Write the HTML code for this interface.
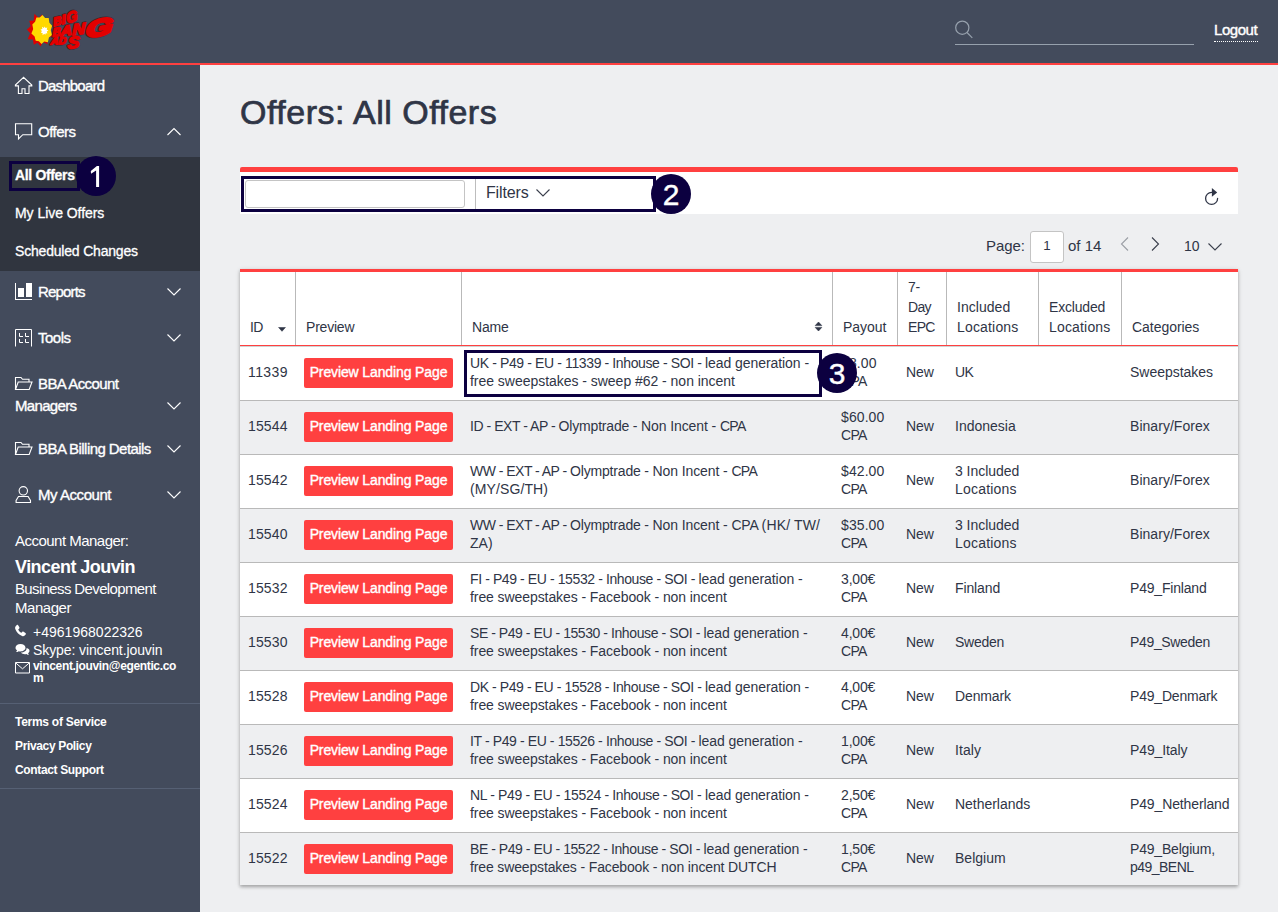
<!DOCTYPE html>
<html lang="en">
<head>
<meta charset="utf-8">
<title>Offers: All Offers</title>
<style>
*{box-sizing:border-box;margin:0;padding:0}
html,body{width:1278px;height:912px;overflow:hidden}
body{font-family:"Liberation Sans",sans-serif;background:#eeeff1;color:#2f3546;font-size:14px;position:relative}
a{color:inherit;text-decoration:none}
/* ---------- header ---------- */
#hdr{position:absolute;left:0;top:0;width:1278px;height:65px;background:#434b5c;border-bottom:2px solid #ff4040}
#logo{position:absolute;left:20px;top:4px}
#hsearch{position:absolute;left:955px;top:44px;width:239px;height:1px;background:#97a1ad}
#hsicon{position:absolute;left:954px;top:19px}
#logout{position:absolute;left:1214px;top:21px;font-size:15px;font-weight:400;-webkit-text-stroke:.4px #fff;color:#fff;letter-spacing:-.45px;line-height:18px;white-space:nowrap}
#logout i{position:absolute;left:0;top:20px;width:44px;height:0;border-top:1px dotted #fff}
/* ---------- sidebar ---------- */
#side{position:absolute;left:0;top:65px;width:200px;height:847px;background:#434b5c;color:#fff}
#sub{position:absolute;left:0;top:92px;width:200px;height:114px;background:#30353f}
.nav{position:absolute;left:38px;font-size:15px;font-weight:400;-webkit-text-stroke:.35px #fff;line-height:20px;white-space:nowrap;letter-spacing:-.75px;color:#fff}
.nav2{left:15px}
.ico{position:absolute;left:14px}
.chev{position:absolute;left:166px}
.subi{position:absolute;left:15px;font-size:14px;font-weight:400;-webkit-text-stroke:.3px #fff;line-height:18px;white-space:nowrap;letter-spacing:-.55px;color:#fff}
.am{position:absolute;left:15px;white-space:nowrap;color:#fff;line-height:18px}
.sep{position:absolute;left:0;width:200px;height:1px;background:#566074}
.foot{position:absolute;left:15px;font-size:12px;font-weight:700;white-space:nowrap;color:#fff;letter-spacing:-.35px;line-height:14px}
/* ---------- main ---------- */
h1{position:absolute;left:240px;top:92px;font-size:34px;line-height:40px;font-weight:400;color:#2f3546;white-space:nowrap;letter-spacing:.5px;-webkit-text-stroke:.7px #2f3546}
#filt{position:absolute;left:240px;top:167px;width:998px;height:47px;background:#fff;border-top:5px solid #ff4040;border-radius:2px 2px 0 0}
#hl2{position:absolute;left:241px;top:176px;width:415px;height:36px;border:3px solid #0c0040}
#finput{position:absolute;left:245px;top:180px;width:220px;height:28px;border:1px solid #c4c4c4;border-radius:3px;background:#fff}
#fsep{position:absolute;left:475px;top:179px;width:1px;height:30px;background:#bdbdbd}
#ftxt{position:absolute;left:486px;top:184px;font-size:16px;line-height:18px;color:#2f3546;letter-spacing:-.15px}
.badge{position:absolute;z-index:6;width:40px;height:40px;border-radius:50%;background:#0c0040;color:#fff;font-size:30px;line-height:42px;text-align:center;-webkit-text-stroke:.4px #fff;overflow:hidden}
#pager{position:absolute;left:0;top:237px;font-size:15px;color:#2f3546;line-height:18px}
#hl1{position:absolute;left:9px;top:161px;width:71px;height:30px;border:3px solid #0c0040}
#hl3{position:absolute;z-index:5;left:464px;top:350px;width:358px;height:47px;border:3px solid #0c0040}
/* ---------- table ---------- */
#tbl{position:absolute;left:240px;top:269px;width:998px;height:616px;background:#fff;border-top:3px solid #ff4040;box-shadow:0 2px 3px rgba(0,0,0,.24),0 1px 5px rgba(0,0,0,.14)}
#thead{position:absolute;left:0;top:0;width:998px;height:74px;border-bottom:1px solid #ff4040;background:#fff;box-shadow:0 1px 0 #cfd3d3}
.vl{position:absolute;top:0;width:1px;height:73px;background:#b9b9b9}
.th{position:absolute;bottom:8px;font-size:14px;line-height:20px;color:#2f3546;white-space:nowrap}
.row{position:absolute;left:0;width:998px;height:54px;border-bottom:1px solid #b9b9b9;background:#fff}
.row.alt{background:#eeeff1}
.row.last{height:52px;border-bottom:0}
.c{position:absolute;top:-1px;height:53px;display:flex;align-items:center;font-size:14px;line-height:18px;color:#2f3546;white-space:nowrap;letter-spacing:-.3px}
.c span{display:block;position:relative;top:-1px}
.c b{font-weight:400;white-space:pre}
.c1{left:8px}.c2{left:64px}.c3{left:230px}.c4{left:601px}.c5{left:666px}.c6{left:715px}.c8{left:890px}
.btn{display:block;width:149px;height:30px;background:#ff4040;border-radius:2px;color:#fff;font-weight:400;-webkit-text-stroke:.4px #fff;font-size:14px;line-height:29px;text-align:center;letter-spacing:-.12px}
</style>
</head>
<body>
<div id="hdr">
<svg id="logo" width="100" height="52" viewBox="20 4 100 52">
<polygon points="42.0,14.4 43.9,19.4 48.6,18.2 47.8,24.4 52.0,26.7 49.0,31.2 51.9,36.3 47.2,37.8 47.6,44.2 42.9,42.1 40.6,46.6 37.6,42.8 33.8,44.7 32.9,39.5 27.7,39.2 30.2,33.3 26.9,29.6 30.6,26.3 29.3,20.8 33.7,20.6 34.5,13.7 38.7,18.0" fill="#e00000"/>
<polygon points="42.5,15.0 45.1,18.0 48.7,17.9 49.4,22.8 52.1,25.7 50.8,30.2 52.0,35.0 48.9,37.4 47.9,42.3 44.3,41.6 41.5,43.9 38.9,41.2 35.7,40.7 34.6,36.4 31.4,33.6 33.2,29.0 32.3,24.4 35.1,21.8 36.4,17.4 39.7,17.6" fill="#ffd800"/>
<polygon points="44.8,26.6 45.5,28.1 47.3,27.4 46.7,29.6 48.4,30.5 46.8,31.6 47.4,33.4 45.8,33.3 45.3,34.8 44.2,33.8 42.6,35.2 42.6,32.9 40.9,32.7 41.9,31.0 40.5,29.5 42.4,29.0 42.0,26.7 43.8,27.9" fill="#fff"/>
<g font-family="Liberation Sans, sans-serif" font-weight="700" font-style="italic" fill="#3a0808" stroke="#3a0808" stroke-width="2.600" stroke-linejoin="round" opacity=".55">
<text transform="translate(53.800,26.200) rotate(-16) skewX(-8)" font-size="11.500" textLength="8.500" lengthAdjust="spacingAndGlyphs">B</text>
<text transform="translate(62.300,24.300) rotate(-16) skewX(-8)" font-size="12.500" textLength="4" lengthAdjust="spacingAndGlyphs">I</text>
<text transform="translate(67,23.600) rotate(-16) skewX(-8)" font-size="15" textLength="11.500" lengthAdjust="spacingAndGlyphs">G</text>
<text transform="translate(52.500,36.800) rotate(-8) skewX(-8)" font-size="12" textLength="8.500" lengthAdjust="spacingAndGlyphs">B</text>
<text transform="translate(60.500,36.300) rotate(-8) skewX(-8)" font-size="14" textLength="11.500" lengthAdjust="spacingAndGlyphs">A</text>
<text transform="translate(72.200,35.300) rotate(-8) skewX(-8)" font-size="15.500" textLength="13" lengthAdjust="spacingAndGlyphs">N</text>
<text transform="translate(85.500,38) rotate(-10) skewX(-14)" font-size="23" textLength="27" lengthAdjust="spacingAndGlyphs" stroke-width="3.600">G</text>
<text transform="translate(50.500,44.500) rotate(-2) skewX(-8)" font-size="10" textLength="15.500" lengthAdjust="spacingAndGlyphs">AD</text>
<text transform="translate(67.500,48.800) rotate(-6) skewX(-8)" font-size="16.500" textLength="12" lengthAdjust="spacingAndGlyphs">S</text>
</g>
<g font-family="Liberation Sans, sans-serif" font-weight="700" font-style="italic" fill="#e30000" stroke="#e30000" stroke-width="1.500" stroke-linejoin="round">
<text transform="translate(53.800,26.200) rotate(-16) skewX(-8)" font-size="11.500" textLength="8.500" lengthAdjust="spacingAndGlyphs">B</text>
<text transform="translate(62.300,24.300) rotate(-16) skewX(-8)" font-size="12.500" textLength="4" lengthAdjust="spacingAndGlyphs">I</text>
<text transform="translate(67,23.600) rotate(-16) skewX(-8)" font-size="15" textLength="11.500" lengthAdjust="spacingAndGlyphs">G</text>
<text transform="translate(52.500,36.800) rotate(-8) skewX(-8)" font-size="12" textLength="8.500" lengthAdjust="spacingAndGlyphs">B</text>
<text transform="translate(60.500,36.300) rotate(-8) skewX(-8)" font-size="14" textLength="11.500" lengthAdjust="spacingAndGlyphs">A</text>
<text transform="translate(72.200,35.300) rotate(-8) skewX(-8)" font-size="15.500" textLength="13" lengthAdjust="spacingAndGlyphs">N</text>
<text transform="translate(85.500,38) rotate(-10) skewX(-14)" font-size="23" textLength="27" lengthAdjust="spacingAndGlyphs" stroke-width="2.600">G</text>
<text transform="translate(50.500,44.500) rotate(-2) skewX(-8)" font-size="10" textLength="15.500" lengthAdjust="spacingAndGlyphs">AD</text>
<text transform="translate(67.500,48.800) rotate(-6) skewX(-8)" font-size="16.500" textLength="12" lengthAdjust="spacingAndGlyphs">S</text>
</g>
</svg>
<svg id="hsicon" width="22" height="22" viewBox="0 0 22 22" fill="none" stroke="#97a1ad" stroke-width="1.2"><circle cx="8.300" cy="8.700" r="6.600"/><path d="M13 13.500 18.300 18.800"/></svg>
<div id="hsearch"></div>
<a id="logout">Logout<i></i></a>
</div>
<div id="side"><div id="sub"></div>
<!-- nav icons -->
<svg class="ico" style="top:11px" width="20" height="20" viewBox="0 0 20 20" fill="none" stroke="#fff" stroke-width="1.1"><path d="M9.500 1.300 1.400 9v.9h3v7.600h3.600v-4.700h3v4.700h4V9.900h2.800V9z" stroke-linejoin="miter"/></svg>
<a class="nav" style="top:11px;letter-spacing:-0.8px">Dashboard</a>
<svg class="ico" style="top:57px" width="20" height="20" viewBox="0 0 20 20" fill="none" stroke="#fff" stroke-width="1.1"><path d="M1.500 1.800h16.200v10.900H8.800l-4.300 4.300v-4.300h-3z"/></svg>
<a class="nav" style="top:57px;letter-spacing:-0.52px">Offers</a>
<svg class="chev" style="top:62px" width="16" height="10" viewBox="0 0 16 10" fill="none" stroke="#fff" stroke-width="1.1"><path d="M1.500 8 8 1.500l6.500 6.500"/></svg>
<a class="subi" style="top:101px;font-weight:700;letter-spacing:-.34px">All Offers</a>
<a class="subi sm" style="top:139px;letter-spacing:-.05px">My Live Offers</a>
<a class="subi sm" style="top:177px;letter-spacing:-.19px">Scheduled Changes</a>
<svg class="ico" style="top:217px" width="20" height="20" viewBox="0 0 20 20" fill="#fff"><path d="M1 1h1v16h16v1H1zM4 6h6v9H4zM12 1h6v14h-6z"/></svg>
<a class="nav" style="top:217px;letter-spacing:-0.82px">Reports</a>
<svg class="chev" style="top:222px" width="16" height="10" viewBox="0 0 16 10" fill="none" stroke="#fff" stroke-width="1.1"><path d="M1.500 1.500l6.500 6.500 6.500-6.500"/></svg>
<svg class="ico" style="top:263px" width="20" height="20" viewBox="0 0 20 20" fill="none" stroke="#fff" stroke-width="1"><path d="M1.500 18.500V1.500h16v17M5.500 5v3.500H9M11.500 5v3.500H15M5.500 11v3.500H9M11.500 11v3.500H15"/></svg>
<a class="nav" style="top:263px;letter-spacing:-0.51px">Tools</a>
<svg class="chev" style="top:268px" width="16" height="10" viewBox="0 0 16 10" fill="none" stroke="#fff" stroke-width="1.1"><path d="M1.500 1.500l6.500 6.500 6.500-6.500"/></svg>
<svg class="ico" style="top:311px" width="20" height="16" viewBox="0 0 20 16" fill="none" stroke="#fff" stroke-width="1.1"><path d="M1.500 13.500V1.500h5.500l1.500 1.800h6.500v2.700M1.500 13.500 4.200 6H18l-2.800 7.500z"/></svg>
<a class="nav" style="top:309px;letter-spacing:-0.57px">BBA Account</a>
<a class="nav nav2" style="top:331px;letter-spacing:-0.67px">Managers</a>
<svg class="chev" style="top:336px" width="16" height="10" viewBox="0 0 16 10" fill="none" stroke="#fff" stroke-width="1.1"><path d="M1.500 1.500l6.500 6.500 6.500-6.500"/></svg>
<svg class="ico" style="top:376px" width="20" height="16" viewBox="0 0 20 16" fill="none" stroke="#fff" stroke-width="1.1"><path d="M1.500 13.500V1.500h5.500l1.500 1.800h6.500v2.700M1.500 13.500 4.200 6H18l-2.800 7.500z"/></svg>
<a class="nav" style="top:374px;letter-spacing:-0.56px">BBA Billing Details</a>
<svg class="chev" style="top:379px" width="16" height="10" viewBox="0 0 16 10" fill="none" stroke="#fff" stroke-width="1.1"><path d="M1.500 1.500l6.500 6.500 6.500-6.500"/></svg>
<svg class="ico" style="top:420px" width="20" height="20" viewBox="0 0 20 20" fill="none" stroke="#fff" stroke-width="1.1"><circle cx="9.300" cy="5.800" r="4.200"/><path d="M4.500 11.500h9.600l2.400 4v2h-14.400v-2z"/></svg>
<a class="nav" style="top:420px;letter-spacing:-0.45px">My Account</a>
<svg class="chev" style="top:425px" width="16" height="10" viewBox="0 0 16 10" fill="none" stroke="#fff" stroke-width="1.1"><path d="M1.500 1.500l6.500 6.500 6.500-6.500"/></svg>
<!-- account manager -->
<div class="am" style="top:467px;font-size:15px;letter-spacing:-.52px">Account Manager:</div>
<div class="am" style="top:491px;font-size:18px;font-weight:700;line-height:22px;letter-spacing:-.55px">Vincent Jouvin</div>
<div class="am" style="top:515px;font-size:15px;letter-spacing:-.63px">Business Development</div>
<div class="am" style="top:534px;font-size:15px;letter-spacing:-.45px">Manager</div>
<svg class="ico" style="left:14px;top:559px" width="14" height="14" viewBox="0 0 13 13" fill="#fff"><path d="M2.600 1c.5-.4 1.100-.3 1.400.3l1 1.800c.2.500.1 1-.3 1.300l-.8.600c.6 1.400 1.600 2.500 3 3.200l.7-.8c.3-.4.900-.5 1.300-.2l1.700 1.100c.5.300.6 1 .2 1.400l-.9 1c-.6.600-1.600.700-2.400.4C4.400 9.900 2.300 7.600 1.200 4.600c-.3-.8-.2-1.700.4-2.400z"/></svg>
<div class="am" style="left:33px;top:558px;font-size:14px;letter-spacing:.02px">+4961968022326</div>
<svg class="ico" style="left:15px;top:578px" width="15" height="13" viewBox="0 0 15 13" fill="#fff"><path d="M5.500 1C2.700 1 .5 2.600.5 4.700c0 1 .6 2 1.500 2.600-.1.700-.5 1.300-1 1.800 1 0 2-.3 2.800-.9.500.1 1.100.2 1.700.2 2.800 0 5-1.700 5-3.700S8.300 1 5.500 1z"/><path d="M11.600 5.300c0 2.400-2.500 4.200-5.700 4.300.8 1 2.300 1.600 4 1.600.5 0 1-.1 1.500-.2.700.6 1.600.9 2.600.9-.5-.5-.8-1.100-.9-1.700.8-.6 1.400-1.500 1.400-2.400 0-1.300-1.200-2.300-2.900-2.700z"/></svg>
<div class="am" style="left:33px;top:576px;font-size:14px;letter-spacing:-.1px">Skype: vincent.jouvin</div>
<svg class="ico" style="left:15px;top:597px" width="15" height="12" viewBox="0 0 15 12" fill="none" stroke="#fff" stroke-width="1"><path d="M.5.500h14v10.500H.5zM.8 1 7.500 6.800 14.200 1"/></svg>
<div class="am" style="left:33px;top:595px;font-size:12px;font-weight:700;line-height:12px;letter-spacing:-.35px;white-space:normal;width:150px;word-break:break-all">vincent.jouvin@egentic.co<br>m</div>
<div class="sep" style="top:638px"></div>
<a class="foot" style="top:650px;letter-spacing:-.27px">Terms of Service</a>
<a class="foot" style="top:674px">Privacy Policy</a>
<a class="foot" style="top:698px">Contact Support</a>
<div class="sep" style="top:723px"></div>
</div>
<h1>Offers: All Offers</h1>
<div id="filt"></div>
<div id="finput"></div>
<div id="fsep"></div>
<div id="ftxt">Filters</div>
<svg style="position:absolute;left:535px;top:188px" width="16" height="10" viewBox="0 0 16 10" fill="none" stroke="#3a3f4c" stroke-width="1.1"><path d="M1.500 1.500 8 8l6.500-6.500"/></svg>
<div id="hl2"></div>
<div class="badge" style="left:651px;top:174px">2</div>
<svg style="position:absolute;left:1202px;top:186px" width="20" height="22" viewBox="0 0 20 22" fill="none" stroke="#2f3546" stroke-width="1.300"><path d="M9.600 6.400A6 6 0 1 0 15.600 12.400" stroke-linecap="round"/><path d="M9.900 2v8.800l5.300-4.400z" fill="#2f3546" stroke="none"/></svg>
<div id="pager">
<span style="position:absolute;left:986px;top:0;letter-spacing:-.05px">Page:</span>
<span style="position:absolute;left:1030px;top:-6px;width:34px;height:32px;border:1px solid #c4c4c4;border-radius:3px;background:#fff;text-align:center;line-height:28px;font-size:13.300px">1</span>
<span style="position:absolute;left:1068px;top:0;white-space:nowrap;letter-spacing:0">of 14</span>
<svg style="position:absolute;left:1119px;top:-1px" width="12" height="16" viewBox="0 0 12 16" fill="none" stroke="#9b9ea5" stroke-width="1.100"><path d="M9 1.500 2.500 8 9 14.500"/></svg>
<svg style="position:absolute;left:1149px;top:-1px" width="12" height="16" viewBox="0 0 12 16" fill="none" stroke="#3a3f4c" stroke-width="1.100"><path d="M3 1.500 9.500 8 3 14.500"/></svg>
<span style="position:absolute;left:1184px;top:0;font-size:14px">10</span>
<svg style="position:absolute;left:1207px;top:5px" width="16" height="10" viewBox="0 0 16 10" fill="none" stroke="#3a3f4c" stroke-width="1.100"><path d="M1.500 1.500 8 8l6.500-6.500"/></svg>
</div>
<div id="hl1"></div>
<div class="badge" style="left:76px;top:156px"><svg width="40" height="40" viewBox="0 0 40 40" style="display:block"><path d="M23.100 10V31.100H20.100V14.600L15 17.800 14.800 15 20.900 10z" fill="#fff"/></svg></div>
<div id="hl3"></div>
<div class="badge" style="left:817px;top:353px">3</div>
<div id="tbl">
<div id="thead">
<i class="vl" style="left:55px"></i><i class="vl" style="left:221px"></i><i class="vl" style="left:592px"></i><i class="vl" style="left:657px"></i><i class="vl" style="left:706px"></i><i class="vl" style="left:798px"></i><i class="vl" style="left:881px"></i>
<svg style="position:absolute;left:38px;top:55px" width="8" height="5" viewBox="0 0 8 5"><path d="M.6.400h6.800L4 4.300z" fill="#2f3546" stroke="#2f3546" stroke-width=".6" stroke-linejoin="round"/></svg>
<svg style="position:absolute;left:574px;top:49px" width="9" height="11" viewBox="0 0 9 11"><path d="M1.200 4.600h6.600L4.500 1zM1.200 6.400h6.600L4.500 10z" fill="#2f3546" stroke="#2f3546" stroke-width=".6" stroke-linejoin="round"/></svg>
<span class="th" style="left:10px"><span style="letter-spacing:-0.7px">ID</span></span>
<span class="th" style="left:66px"><span style="letter-spacing:-0.21px">Preview</span></span>
<span class="th" style="left:232px"><span style="letter-spacing:-0.16px">Name</span></span>
<span class="th" style="left:603px"><span style="letter-spacing:-0.02px">Payout</span></span>
<span class="th" style="left:668px"><span style="letter-spacing:-0.25px">7-</span><br><span style="letter-spacing:-0.7px">Day</span><br><span style="letter-spacing:-0.7px">EPC</span></span>
<span class="th" style="left:717px"><span style="letter-spacing:0.04px">Included</span><br><span style="letter-spacing:0.17px">Locations</span></span>
<span class="th" style="left:809px"><span style="letter-spacing:-0.18px">Excluded</span><br><span style="letter-spacing:0.17px">Locations</span></span>
<span class="th" style="left:892px"><span style="letter-spacing:-0.04px">Categories</span></span>
</div>
<div class="row" style="top:75px"><div class="c c1"><span style="letter-spacing:.39px">11339</span></div><div class="c c2"><a class="btn">Preview Landing Page</a></div><div class="c c3"><div><span><b style="letter-spacing:-.38px">UK - P49 - EU - 11339 - </b><b style="letter-spacing:-.39px">Inhouse - SOI - </b><b style="letter-spacing:-.06px">lead generation -</b></span><span style="letter-spacing:-.03px">free sweepstakes - sweep #62 - non incent</span></div></div><div class="c c4"><div><span style="letter-spacing:.12px">$8.00</span><span style="letter-spacing:-.68px">CPA</span></div></div><div class="c c5"><span style="letter-spacing:-.11px">New</span></div><div class="c c6"><div><span style="letter-spacing:-.7px">UK</span></div></div><div class="c c8"><div><span style="letter-spacing:-.03px">Sweepstakes</span></div></div></div>
<div class="row alt" style="top:129px"><div class="c c1"><span style="letter-spacing:.14px">15544</span></div><div class="c c2"><a class="btn">Preview Landing Page</a></div><div class="c c3"><div><span><b style="letter-spacing:-.46px">ID - EXT - AP - </b><b style="letter-spacing:-.18px">Olymptrade - </b><b style="letter-spacing:-.1px">Non Incent - </b><b style="letter-spacing:-.68px">CPA</b></span></div></div><div class="c c4"><div><span style="letter-spacing:.09px">$60.00</span><span style="letter-spacing:-.68px">CPA</span></div></div><div class="c c5"><span style="letter-spacing:-.11px">New</span></div><div class="c c6"><div><span style="letter-spacing:0px">Indonesia</span></div></div><div class="c c8"><div><span style="letter-spacing:.04px">Binary/Forex</span></div></div></div>
<div class="row" style="top:183px"><div class="c c1"><span style="letter-spacing:.14px">15542</span></div><div class="c c2"><a class="btn">Preview Landing Page</a></div><div class="c c3"><div><span><b style="letter-spacing:-.52px">WW - EXT - AP - </b><b style="letter-spacing:-.18px">Olymptrade - </b><b style="letter-spacing:-.1px">Non Incent - </b><b style="letter-spacing:-.68px">CPA</b></span><span style="letter-spacing:.11px">(MY/SG/TH)</span></div></div><div class="c c4"><div><span style="letter-spacing:.09px">$42.00</span><span style="letter-spacing:-.68px">CPA</span></div></div><div class="c c5"><span style="letter-spacing:-.11px">New</span></div><div class="c c6"><div><span style="letter-spacing:-.04px">3 Included</span><span style="letter-spacing:.2px">Locations</span></div></div><div class="c c8"><div><span style="letter-spacing:.04px">Binary/Forex</span></div></div></div>
<div class="row alt" style="top:237px"><div class="c c1"><span style="letter-spacing:.14px">15540</span></div><div class="c c2"><a class="btn">Preview Landing Page</a></div><div class="c c3"><div><span><b style="letter-spacing:-.52px">WW - EXT - AP - </b><b style="letter-spacing:-.18px">Olymptrade - </b><b style="letter-spacing:-.1px">Non Incent - </b><b style="letter-spacing:-.17px">CPA </b><b style="letter-spacing:.15px">(HK/ TW/</b></span><span style="letter-spacing:.07px">ZA)</span></div></div><div class="c c4"><div><span style="letter-spacing:.09px">$35.00</span><span style="letter-spacing:-.68px">CPA</span></div></div><div class="c c5"><span style="letter-spacing:-.11px">New</span></div><div class="c c6"><div><span style="letter-spacing:-.04px">3 Included</span><span style="letter-spacing:.2px">Locations</span></div></div><div class="c c8"><div><span style="letter-spacing:.04px">Binary/Forex</span></div></div></div>
<div class="row" style="top:291px"><div class="c c1"><span style="letter-spacing:.14px">15532</span></div><div class="c c2"><a class="btn">Preview Landing Page</a></div><div class="c c3"><div><span><b style="letter-spacing:-.4px">FI - P49 - EU - 15532 - </b><b style="letter-spacing:-.39px">Inhouse - SOI - </b><b style="letter-spacing:-.06px">lead generation -</b></span><span style="letter-spacing:-.08px">free sweepstakes - Facebook - non incent</span></div></div><div class="c c4"><div><span style="letter-spacing:-.16px">3,00€</span><span style="letter-spacing:-.68px">CPA</span></div></div><div class="c c5"><span style="letter-spacing:-.11px">New</span></div><div class="c c6"><div><span style="letter-spacing:-.12px">Finland</span></div></div><div class="c c8"><div><span style="letter-spacing:-.19px">P49_Finland</span></div></div></div>
<div class="row alt" style="top:345px"><div class="c c1"><span style="letter-spacing:.14px">15530</span></div><div class="c c2"><a class="btn">Preview Landing Page</a></div><div class="c c3"><div><span><b style="letter-spacing:-.45px">SE - P49 - EU - 15530 - </b><b style="letter-spacing:-.39px">Inhouse - SOI - </b><b style="letter-spacing:-.06px">lead generation -</b></span><span style="letter-spacing:-.08px">free sweepstakes - Facebook - non incent</span></div></div><div class="c c4"><div><span style="letter-spacing:-.16px">4,00€</span><span style="letter-spacing:-.68px">CPA</span></div></div><div class="c c5"><span style="letter-spacing:-.11px">New</span></div><div class="c c6"><div><span style="letter-spacing:-.28px">Sweden</span></div></div><div class="c c8"><div><span style="letter-spacing:-.34px">P49_Sweden</span></div></div></div>
<div class="row" style="top:399px"><div class="c c1"><span style="letter-spacing:.14px">15528</span></div><div class="c c2"><a class="btn">Preview Landing Page</a></div><div class="c c3"><div><span><b style="letter-spacing:-.42px">DK - P49 - EU - 15528 - </b><b style="letter-spacing:-.39px">Inhouse - SOI - </b><b style="letter-spacing:-.06px">lead generation -</b></span><span style="letter-spacing:-.08px">free sweepstakes - Facebook - non incent</span></div></div><div class="c c4"><div><span style="letter-spacing:-.16px">4,00€</span><span style="letter-spacing:-.68px">CPA</span></div></div><div class="c c5"><span style="letter-spacing:-.11px">New</span></div><div class="c c6"><div><span style="letter-spacing:-.12px">Denmark</span></div></div><div class="c c8"><div><span style="letter-spacing:-.2px">P49_Denmark</span></div></div></div>
<div class="row alt" style="top:453px"><div class="c c1"><span style="letter-spacing:.14px">15526</span></div><div class="c c2"><a class="btn">Preview Landing Page</a></div><div class="c c3"><div><span><b style="letter-spacing:-.39px">IT - P49 - EU - 15526 - </b><b style="letter-spacing:-.39px">Inhouse - SOI - </b><b style="letter-spacing:-.06px">lead generation -</b></span><span style="letter-spacing:-.08px">free sweepstakes - Facebook - non incent</span></div></div><div class="c c4"><div><span style="letter-spacing:-.16px">1,00€</span><span style="letter-spacing:-.68px">CPA</span></div></div><div class="c c5"><span style="letter-spacing:-.11px">New</span></div><div class="c c6"><div><span style="letter-spacing:.1px">Italy</span></div></div><div class="c c8"><div><span style="letter-spacing:-.11px">P49_Italy</span></div></div></div>
<div class="row" style="top:507px"><div class="c c1"><span style="letter-spacing:.14px">15524</span></div><div class="c c2"><a class="btn">Preview Landing Page</a></div><div class="c c3"><div><span><b style="letter-spacing:-.34px">NL - P49 - EU - 15524 - </b><b style="letter-spacing:-.39px">Inhouse - SOI - </b><b style="letter-spacing:-.06px">lead generation -</b></span><span style="letter-spacing:-.08px">free sweepstakes - Facebook - non incent</span></div></div><div class="c c4"><div><span style="letter-spacing:-.16px">2,50€</span><span style="letter-spacing:-.68px">CPA</span></div></div><div class="c c5"><span style="letter-spacing:-.11px">New</span></div><div class="c c6"><div><span style="letter-spacing:-.03px">Netherlands</span></div></div><div class="c c8"><div><span style="letter-spacing:-.13px">P49_Netherland</span></div></div></div>
<div class="row alt last" style="top:561px"><div class="c c1"><span style="letter-spacing:.14px">15522</span></div><div class="c c2"><a class="btn">Preview Landing Page</a></div><div class="c c3"><div><span><b style="letter-spacing:-.45px">BE - P49 - EU - 15522 - </b><b style="letter-spacing:-.39px">Inhouse - SOI - </b><b style="letter-spacing:-.06px">lead generation -</b></span><span style="letter-spacing:-.14px">free sweepstakes - Facebook - non incent DUTCH</span></div></div><div class="c c4"><div><span style="letter-spacing:-.16px">1,50€</span><span style="letter-spacing:-.68px">CPA</span></div></div><div class="c c5"><span style="letter-spacing:-.11px">New</span></div><div class="c c6"><div><span style="letter-spacing:.02px">Belgium</span></div></div><div class="c c8"><div><span style="letter-spacing:-.19px">P49_Belgium,</span><span style="letter-spacing:-.53px">p49_BENL</span></div></div></div>
</div>
</body>
</html>
